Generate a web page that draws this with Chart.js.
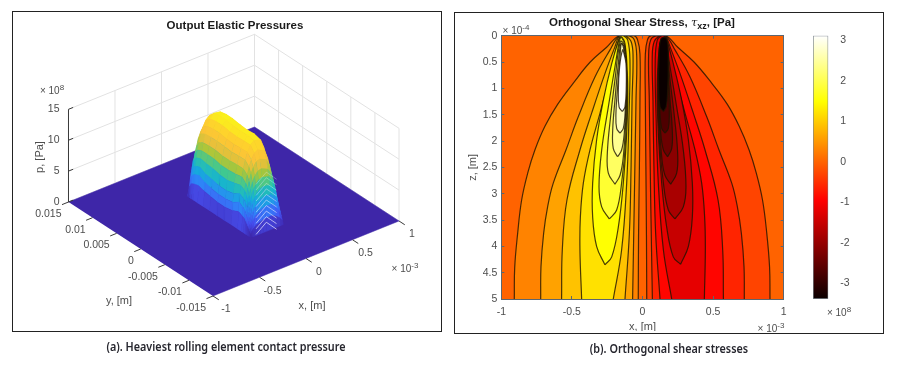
<!DOCTYPE html>
<html>
<head>
<meta charset="utf-8">
<script src="https://cdn.jsdelivr.net/npm/chart.js@4"></script>
<style>
  html, body { margin: 0; padding: 0; background: #fff; }
  #page { position: absolute; left: 0; top: 0; width: 900px; height: 372px; overflow: hidden; filter: blur(0.4px);
          font-family: "Liberation Sans", sans-serif; color: #4d4d4d; }
  #page canvas { position: absolute; }
  .frame { position: absolute; border: 1.5px solid #222; box-sizing: border-box; }
  .txt { position: absolute; white-space: nowrap; transform: translate(-50%, -50%); font-size: 11px; }
  .txt sup { font-size: 8px; vertical-align: 4px; line-height: 0; }
  .title { font-weight: bold; color: #1a1a1a; font-size: 11.5px; }
  .title i { font-weight: normal; font-family: "DejaVu Serif", serif; }
  .title sub { font-size: 9px; vertical-align: -3px; line-height: 0; }
  .caption { font-family: "Noto Sans", sans-serif; font-weight: 600; color: #26262e; font-size: 12px; transform: translate(-50%, -50%) scaleX(0.9); }
</style>
</head>
<body>
<div id="page">
  <div class="frame" style="left:12px;top:10.5px;width:429.5px;height:321.5px"></div>
  <div class="frame" style="left:453.5px;top:12px;width:430px;height:321.5px"></div>
  <canvas id="surface" width="445" height="372" style="left:0;top:0"></canvas>
  <canvas id="contour" width="427" height="317" style="left:455px;top:14px"></canvas>
  <canvas id="colorbar" width="70" height="317" style="left:800px;top:14px"></canvas>

  <div class="txt title" style="left:235px;top:24.5px">Output Elastic Pressures</div>
  <div class="txt" style="left:52px;top:90px;font-size:10px">&times; 10<sup>8</sup></div>
  <div class="txt" style="left:405px;top:268px;font-size:10px">&times; 10<sup>-3</sup></div>
  <div class="txt" style="left:312px;top:305px">x, [m]</div>
  <div class="txt" style="left:119px;top:300px">y, [m]</div>
  <div class="txt" style="left:38.5px;top:157px;transform:translate(-50%,-50%) rotate(-90deg)">p, [Pa]</div>
  <div class="txt caption" style="left:226px;top:346px">(a). Heaviest rolling element contact pressure</div>

  <div class="txt title" style="left:642px;top:22px">Orthogonal Shear Stress, <i>&tau;</i><sub>xz</sub>, [Pa]</div>
  <div class="txt" style="left:516px;top:30px;font-size:10px">&times; 10<sup>-4</sup></div>
  <div class="txt" style="left:771px;top:328px;font-size:10px">&times; 10<sup>-3</sup></div>
  <div class="txt" style="left:839px;top:312px;font-size:10px">&times; 10<sup>8</sup></div>
  <div class="txt caption" style="left:668.5px;top:347.5px">(b). Orthogonal shear stresses</div>
</div>

<script>
// Left panel: axis ticks
const xTicks3d = [-1, -0.5, 0, 0.5, 1];
const xTickLabels3d = ['-1', '-0.5', '0', '0.5', '1'];
const yTicks3d = [0.015, 0.01, 0.005, 0, -0.005, -0.01, -0.015];
const yTickLabels3d = ['0.015', '0.01', '0.005', '0', '-0.005', '-0.01', '-0.015'];
const pTicks = [0, 5, 10, 15];

// Left panel: pressure surface, x in 1e-3 m, y in m, p in 1e8 Pa (one row per y station)
const surfaceX = [-0.154, -0.146, -0.14, -0.132, -0.122, -0.11, -0.094, -0.074, -0.05, -0.018, 0.02, 0.09, 0.125, 0.165, 0.195, 0.205];
const surfaceY = [0.0068, 0.0063, 0.0059, 0.0054, 0.0045, 0.0033, 0.002, 0.0005, -0.001, -0.0025, -0.0038, -0.0046, -0.005, -0.0053, -0.0055, -0.0057, -0.0059, -0.0061, -0.0063, -0.0065];
const surfaceP = [
  [0, 0, 0, 0, 0, 0, 0, 0, 0, 0, 0, 0, 0, 0, 0, 0],
  [0, 1.8, 2.8, 3.7, 4.6, 5.4, 6.2, 7.1, 7.8, 8.3, 8.5, 8.4, 7.8, 5.4, 2.8, 0],
  [0, 2.4, 3.7, 4.8, 6, 7.1, 8.1, 9.3, 10.2, 10.9, 11.2, 11.1, 10.2, 7.1, 3.7, 0],
  [0, 2.6, 4.1, 5.4, 6.7, 7.9, 9, 10.3, 11.3, 12.2, 12.7, 12.5, 11.3, 7.9, 4.1, 0],
  [0, 2.8, 4.4, 5.7, 7, 8.2, 9.4, 10.7, 11.8, 12.8, 13.5, 13.3, 11.8, 8.2, 4.2, 0],
  [0, 2.5, 3.9, 5.2, 6.8, 8.2, 9.5, 10.8, 12, 13, 13.7, 13.5, 12, 8.3, 4.3, 0],
  [0, 2.3, 3.6, 5, 6.7, 8.2, 9.5, 10.8, 12, 13, 13.7, 13.5, 12, 8.3, 4.3, 0],
  [0, 2.1, 3.4, 4.7, 6.4, 7.9, 9.3, 10.7, 11.8, 12.8, 13.5, 13.3, 11.8, 8.2, 4.2, 0],
  [0, 2.1, 3.4, 4.7, 6.3, 7.9, 9.3, 10.6, 11.7, 12.7, 13.4, 13.2, 11.7, 8.1, 4.2, 0],
  [0, 2.3, 3.6, 5, 6.6, 8, 9.4, 10.7, 11.8, 12.8, 13.5, 13.3, 11.8, 8.2, 4.2, 0],
  [0, 2.8, 4.3, 5.6, 6.9, 8.2, 9.4, 10.7, 11.8, 12.8, 13.3, 13, 11.6, 8.2, 4.2, 0],
  [0, 2.5, 3.9, 5.2, 6.5, 7.6, 8.8, 10, 11, 11.9, 12.2, 11.6, 10.2, 7.4, 3.9, 0],
  [0, 2.3, 3.6, 4.8, 5.9, 7, 8, 9.1, 10, 10.7, 10.9, 10.4, 9.2, 6.6, 3.6, 0],
  [0, 2, 3.1, 4.1, 5.1, 6, 6.9, 7.9, 8.7, 9.3, 9.5, 9, 8.1, 5.8, 3.1, 0],
  [0, 1.7, 2.7, 3.5, 4.4, 5.2, 5.9, 6.8, 7.4, 8, 8.2, 7.9, 7.1, 5.1, 2.7, 0],
  [0, 1.4, 2.2, 2.9, 3.6, 4.2, 4.8, 5.5, 6.1, 6.6, 6.8, 6.6, 5.9, 4.2, 2.2, 0],
  [0, 1.1, 1.7, 2.2, 2.8, 3.2, 3.7, 4.2, 4.7, 5.1, 5.3, 5.2, 4.7, 3.2, 1.7, 0],
  [0, 0.8, 1.2, 1.6, 1.9, 2.3, 2.6, 3, 3.3, 3.6, 3.8, 3.7, 3.3, 2.3, 1.2, 0],
  [0, 0.4, 0.6, 0.8, 1, 1.2, 1.4, 1.6, 1.7, 1.9, 2, 2, 1.7, 1.2, 0.6, 0],
  [0, 0, 0, 0, 0, 0, 0, 0, 0, 0, 0, 0, 0, 0, 0, 0]
];

// Left panel: pale mesh chevrons on the front end, [x, p] per point
const chevronY = -0.0058;
const chevronHeights = [9, 8.1, 7.2, 6.3, 5.4, 4.5, 3.6, 2.7, 1.8, 0.9];
const chevronX = [-0.06, 0.05, 0.16];
const chevronDrop = [1.3, 0, 1.8];

// Right panel: axis ticks
const xTicks = [-1, -0.5, 0, 0.5, 1];
const zTicks = [0, 0.5, 1, 1.5, 2, 2.5, 3, 3.5, 4, 4.5, 5];
const stressTicks = [-3, -2, -1, 0, 1, 2, 3];
const stressRange = [-3.38, 3.107];

// Right panel: contour lines as [x, z] pairs, x in 1e-3 m, z in 1e-4 m
const posArch1 = [[-0.908, 5], [-0.905, 4.4], [-0.884, 3.75], [-0.856, 3.12], [-0.812, 2.6], [-0.762, 2.17], [-0.691, 1.72], [-0.6, 1.3], [-0.49, 0.9], [-0.37, 0.5], [-0.254, 0.22], [-0.165, 0], [-0.06, 0], [-0.035, 0.08], [-0.018, 0.35], [-0.018, 1.2], [-0.022, 2.5], [-0.028, 3.8], [-0.03, 5]];
const posArch2 = [[-0.721, 5], [-0.719, 4.39], [-0.7, 3.75], [-0.672, 3.25], [-0.632, 2.8], [-0.542, 2.17], [-0.455, 1.54], [-0.336, 0.78], [-0.23, 0.27], [-0.166, 0.01], [-0.1, 0], [-0.058, 0.08], [-0.041, 0.4], [-0.046, 1.22], [-0.058, 3.12], [-0.07, 5]];
const posArch3 = [[-0.573, 5], [-0.568, 4.07], [-0.535, 3.12], [-0.443, 2.17], [-0.36, 1.47], [-0.266, 0.72], [-0.195, 0.21], [-0.162, 0], [-0.124, 0], [-0.081, 0.11], [-0.067, 0.4], [-0.074, 1.22], [-0.081, 2.49], [-0.093, 3.75], [-0.124, 5]];
const posArch4 = [[-0.431, 5], [-0.443, 4.07], [-0.44, 3.44], [-0.419, 2.8], [-0.372, 2.17], [-0.301, 1.47], [-0.23, 0.75], [-0.183, 0.21], [-0.157, 0], [-0.136, 0], [-0.105, 0.08], [-0.089, 0.46], [-0.096, 1.54], [-0.112, 2.8], [-0.148, 4.07], [-0.207, 5]];
const posLoop1 = [[-0.266, 4.35], [-0.325, 4], [-0.353, 3.44], [-0.353, 2.8], [-0.325, 1.98], [-0.277, 1.22], [-0.218, 0.53], [-0.171, 0.11], [-0.152, 0.02], [-0.124, 0.15], [-0.105, 0.91], [-0.112, 1.85], [-0.136, 2.8], [-0.171, 3.63], [-0.218, 4.2]];
const posLoop2 = [[-0.235, 3.48], [-0.289, 3.25], [-0.308, 2.87], [-0.289, 2.17], [-0.242, 1.35], [-0.195, 0.59], [-0.162, 0.08], [-0.148, 0.03], [-0.124, 0.21], [-0.11, 1.09], [-0.119, 1.98], [-0.148, 2.8], [-0.183, 3.31]];
const posLoop3 = [[-0.195, 2.82], [-0.242, 2.61], [-0.249, 2.23], [-0.226, 1.54], [-0.195, 0.84], [-0.157, 0.11], [-0.129, 0.18], [-0.112, 0.84], [-0.117, 1.54], [-0.136, 2.3], [-0.159, 2.65]];
const posLoop4 = [[-0.176, 2.3], [-0.207, 2.14], [-0.211, 1.79], [-0.195, 1.22], [-0.171, 0.53], [-0.152, 0.15], [-0.131, 0.21], [-0.117, 0.65], [-0.117, 1.22], [-0.129, 1.85], [-0.148, 2.17]];
const posLoop5 = [[-0.159, 1.85], [-0.183, 1.76], [-0.188, 1.47], [-0.176, 0.97], [-0.159, 0.4], [-0.15, 0.15], [-0.136, 0.21], [-0.124, 0.46], [-0.119, 0.91], [-0.122, 1.41], [-0.136, 1.76]];
const posLoop6 = [[-0.143, 1.44], [-0.166, 1.35], [-0.171, 1.03], [-0.162, 0.59], [-0.141, 0.27], [-0.131, 0.34], [-0.117, 0.53], [-0.115, 0.97], [-0.124, 1.35]];

const negArch1 = [[0.903, 5], [0.9, 4.4], [0.88, 3.75], [0.85, 3.12], [0.805, 2.6], [0.755, 2.17], [0.685, 1.72], [0.6, 1.3], [0.49, 0.9], [0.365, 0.5], [0.25, 0.22], [0.165, 0], [0.06, 0], [0.035, 0.08], [0.02, 0.35], [0.02, 1.2], [0.024, 2.5], [0.028, 3.8], [0.03, 5]];
const negArch2 = [[0.721, 5], [0.719, 4.39], [0.7, 3.75], [0.672, 3.25], [0.632, 2.8], [0.542, 2.17], [0.455, 1.54], [0.336, 0.78], [0.23, 0.27], [0.166, 0.01], [0.1, 0], [0.058, 0.08], [0.043, 0.4], [0.048, 1.22], [0.058, 3.12], [0.07, 5]];
const negArch3 = [[0.573, 5], [0.568, 4.07], [0.535, 3.12], [0.443, 2.17], [0.36, 1.47], [0.266, 0.72], [0.195, 0.21], [0.162, 0], [0.124, 0], [0.083, 0.11], [0.069, 0.4], [0.074, 1.22], [0.081, 2.49], [0.093, 3.75], [0.124, 5]];
const negArch4 = [[0.438, 5], [0.445, 4.07], [0.44, 3.44], [0.419, 2.8], [0.372, 2.17], [0.301, 1.47], [0.23, 0.75], [0.183, 0.21], [0.157, 0], [0.136, 0], [0.105, 0.08], [0.09, 0.46], [0.096, 1.54], [0.112, 2.8], [0.148, 4.07], [0.207, 5]];
const negLoop1 = [[0.27, 4.34], [0.325, 4], [0.353, 3.44], [0.353, 2.8], [0.325, 1.98], [0.277, 1.22], [0.218, 0.53], [0.175, 0.11], [0.157, 0.02], [0.124, 0.15], [0.105, 0.91], [0.112, 1.85], [0.136, 2.8], [0.171, 3.63], [0.218, 4.2]];
const negLoop2 = [[0.23, 3.48], [0.289, 3.25], [0.308, 2.87], [0.289, 2.17], [0.242, 1.35], [0.195, 0.59], [0.165, 0.08], [0.15, 0.03], [0.124, 0.21], [0.11, 1.09], [0.119, 1.98], [0.148, 2.8], [0.183, 3.31]];
const negLoop3 = [[0.2, 2.82], [0.242, 2.61], [0.249, 2.23], [0.226, 1.54], [0.195, 0.84], [0.165, 0.11], [0.129, 0.18], [0.112, 0.84], [0.117, 1.54], [0.136, 2.3], [0.159, 2.65]];
const negLoop4 = [[0.178, 2.3], [0.207, 2.14], [0.211, 1.79], [0.195, 1.22], [0.178, 0.53], [0.16, 0.12], [0.131, 0.18], [0.117, 0.65], [0.117, 1.22], [0.129, 1.85], [0.148, 2.17]];
const negLoop5 = [[0.159, 1.85], [0.183, 1.76], [0.19, 1.47], [0.185, 0.97], [0.18, 0.4], [0.165, 0.08], [0.128, 0.1], [0.118, 0.46], [0.119, 0.91], [0.122, 1.41], [0.136, 1.76]];
const negLoop6 = [[0.148, 1.44], [0.168, 1.35], [0.178, 1.03], [0.182, 0.59], [0.172, 0.06], [0.13, 0.06], [0.117, 0.53], [0.115, 0.97], [0.124, 1.35]];

const posContours = [posArch1, posArch2, posArch3, posArch4, posLoop1, posLoop2, posLoop3, posLoop4, posLoop5, posLoop6];
const negContours = [negArch1, negArch2, negArch3, negArch4, negLoop1, negLoop2, negLoop3, negLoop4, negLoop5, negLoop6];
const posLevels = [0.3, 0.6, 0.9, 1.2, 1.5, 1.8, 2.1, 2.4, 2.7, 3.107];
const negLevels = [-0.3, -0.6, -0.9, -1.2, -1.5, -1.8, -2.1, -2.4, -2.7, -3.38];
const zeroLevel = 0;

// Colormaps
const parulaStops = ['#3e26a8', '#4752f4', '#2d87f7', '#12b1d6', '#37c897', '#abc639', '#f9bf3a', '#fecf2e', '#f9fb15'];
const hotStops = [[0, '#0a0000'], [0.375, '#ff0000'], [0.75, '#ffff00'], [1, '#ffffff']];

function hexToRgb(h) {
  return [1, 3, 5].map(i => parseInt(h.slice(i, i + 2), 16));
}

function mix(a, b, t) {
  const ca = hexToRgb(a), cb = hexToRgb(b);
  return 'rgb(' + ca.map((c, i) => Math.round(c + (cb[i] - c) * t)).join(',') + ')';
}

function parula(p) {
  const t = Math.min(p / 14, 1) * (parulaStops.length - 1);
  const i = Math.min(Math.floor(t), parulaStops.length - 2);
  return mix(parulaStops[i], parulaStops[i + 1], t - i);
}

function hot(v) {
  const t = (v - stressRange[0]) / (stressRange[1] - stressRange[0]);
  for (let i = 0; i < hotStops.length - 1; i++) {
    if (t <= hotStops[i + 1][0]) {
      return mix(hotStops[i][1], hotStops[i + 1][1], (t - hotStops[i][0]) / (hotStops[i + 1][0] - hotStops[i][0]));
    }
  }
  return '#ffffff';
}

// View of the 3D axes: x in 1e-3 m, y in m, p in 1e8 Pa
function project(x, y, p) {
  return {
    x: 233.75 + 93 * x - 4816.7 * y,
    y: 211.5 - 37.5 * x - 3133.3 * y - 6.18 * p
  };
}

function polyline(points, color, width) {
  return { data: points, showLine: true, fill: false, borderColor: color, borderWidth: width, pointRadius: 0, tension: 0 };
}

function polygon(points, color) {
  return { data: points, showLine: true, fill: 'shape', backgroundColor: color, borderColor: color, borderWidth: 0.5, pointRadius: 0, tension: 0 };
}

// Build the 3D picture back to front
function buildSurfaceDatasets() {
  const list = [];
  const gridColor = '#e2e2e2';
  const xMin = xTicks3d[0], xMax = xTicks3d[4];
  const yMax = yTicks3d[0], yMin = yTicks3d[6];
  const pMax = pTicks[3];

  xTicks3d.forEach(x => list.push(polyline([project(x, yMax, 0), project(x, yMax, pMax)], gridColor, 1)));
  yTicks3d.forEach(y => list.push(polyline([project(xMax, y, 0), project(xMax, y, pMax)], gridColor, 1)));
  pTicks.forEach(p => list.push(polyline([project(xMin, yMax, p), project(xMax, yMax, p), project(xMax, yMin, p)], gridColor, 1)));

  // floor
  list.push(polygon([project(xMin, yMax, 0), project(xMax, yMax, 0), project(xMax, yMin, 0), project(xMin, yMin, 0)], parula(0)));

  // axis lines and tick marks
  const axisColor = '#3a3a3a';
  list.push(polyline([project(xMin, yMax, 0), project(xMin, yMax, pMax)], axisColor, 1));
  pTicks.forEach(p => list.push(polyline([project(xMin, yMax, p), project(xMin + 0.05, yMax, p)], axisColor, 1)));
  xTicks3d.forEach(x => list.push(polyline([project(x, yMin, 0), project(x, yMin - 0.0012, 0)], axisColor, 1)));
  yTicks3d.forEach(y => list.push(polyline([project(xMin, y, 0), project(xMin - 0.07, y, 0)], axisColor, 1)));

  // pressure hump, rows from far to near, columns from far side to near side
  for (let j = 0; j < surfaceY.length - 1; j++) {
    for (let i = surfaceX.length - 2; i >= 0; i--) {
      const a = surfaceP[j][i], b = surfaceP[j][i + 1], c = surfaceP[j + 1][i + 1], d = surfaceP[j + 1][i];
      if (a + b + c + d === 0) continue;
      list.push(polygon([
        project(surfaceX[i], surfaceY[j], a),
        project(surfaceX[i + 1], surfaceY[j], b),
        project(surfaceX[i + 1], surfaceY[j + 1], c),
        project(surfaceX[i], surfaceY[j + 1], d)
      ], parula((a + b + c + d) / 4)));
    }
  }

  // mesh edges show as pale chevrons on the front end, stronger lower down
  chevronHeights.forEach(h => {
    const alpha = 0.75 - h * 0.05;
    list.push(polyline(chevronX.map((x, i) => project(x, chevronY, h - chevronDrop[i])), 'rgba(235,235,255,' + alpha + ')', 1));
  });
  return list.reverse();
}

// Tick labels of the 3D axes follow the projected tick positions
const axisLabelsPlugin = {
  id: 'axisLabels3d',
  afterDatasetsDraw(chart) {
    const c = chart.ctx, sx = chart.scales.x, sy = chart.scales.y;
    const put = (pos, dx, dy, text, align) => {
      c.textAlign = align;
      c.fillText(text, sx.getPixelForValue(pos.x) + dx, sy.getPixelForValue(pos.y) + dy);
    };
    c.save();
    c.font = '10.5px "Liberation Sans"';
    c.fillStyle = '#4d4d4d';
    c.textBaseline = 'middle';
    xTicks3d.forEach((x, i) => put(project(x, yTicks3d[6], 0), 13, 13.5, xTickLabels3d[i], 'center'));
    yTicks3d.forEach((y, i) => put(project(xTicks3d[0], y, 0), -7, 12, yTickLabels3d[i], 'right'));
    pTicks.forEach(p => put(project(xTicks3d[0], yTicks3d[0], p), -9, 0, String(p), 'right'));
    c.restore();
  }
};

new Chart(document.getElementById('surface'), {
  type: 'scatter',
  data: { datasets: buildSurfaceDatasets() },
  plugins: [axisLabelsPlugin],
  options: {
    responsive: false,
    animation: false,
    events: [],
    layout: { padding: 0 },
    plugins: { legend: { display: false }, tooltip: { enabled: false } },
    scales: {
      x: { type: 'linear', display: false, min: 0, max: 445 },
      y: { type: 'linear', display: false, min: 0, max: 372, reverse: true }
    }
  }
});

// Right panel: contour fills go from the outside in
function contourDataset(points, level, closed) {
  const pts = points.map(p => ({ x: p[0], y: p[1] }));
  if (closed) pts.push(pts[0]);
  return {
    data: pts,
    showLine: true,
    fill: 'shape',
    backgroundColor: hot(level),
    borderColor: 'rgba(30,20,0,0.8)',
    borderWidth: 1.2,
    pointRadius: 0,
    tension: 0.4
  };
}

function buildContourDatasets() {
  const list = [{
    data: [{ x: -1, y: 0 }, { x: 1, y: 0 }, { x: 1, y: 5 }, { x: -1, y: 5 }],
    showLine: true, fill: 'shape', backgroundColor: hot(zeroLevel), borderWidth: 0, pointRadius: 0
  }];
  posContours.forEach((c, i) => list.push(contourDataset(c, posLevels[i], i > 3)));
  negContours.forEach((c, i) => list.push(contourDataset(c, negLevels[i], i > 3)));
  return list.reverse();
}

const axisColor2d = '#5c6670';
const tickFont = { family: '"Liberation Sans"', size: 10.5 };

function boxAxis(extra) {
  return Object.assign({
    type: 'linear',
    border: { display: true, color: axisColor2d, width: 1, z: 1 },
    grid: { drawOnChartArea: false, drawTicks: true, tickLength: -3, color: axisColor2d, z: 1 }
  }, extra);
}

new Chart(document.getElementById('contour'), {
  type: 'scatter',
  data: { datasets: buildContourDatasets() },
  options: {
    responsive: false,
    animation: false,
    events: [],
    layout: { padding: { left: 0, top: 21.7, right: 98.3, bottom: 0 } },
    plugins: { legend: { display: false }, tooltip: { enabled: false } },
    scales: {
      x: boxAxis({
        position: 'bottom', min: -1, max: 1,
        afterBuildTicks: s => { s.ticks = xTicks.map(value => ({ value })); },
        afterFit: s => { s.height = 32; },
        ticks: { color: '#4d4d4d', font: tickFont, padding: 10, maxRotation: 0, callback: v => String(v) },
        title: { display: true, text: 'x, [m]', color: '#4d4d4d', font: { family: '"Liberation Sans"', size: 11 }, padding: { top: 0, bottom: -3 } }
      }),
      y: boxAxis({
        position: 'left', min: 0, max: 5, reverse: true,
        afterBuildTicks: s => { s.ticks = zTicks.map(value => ({ value })); },
        afterFit: s => { s.width = 46.3; },
        ticks: { color: '#4d4d4d', font: tickFont, padding: 7, callback: v => String(v) },
        title: { display: true, text: 'z, [m]', color: '#4d4d4d', font: { family: '"Liberation Sans"', size: 11 }, padding: { top: 11, bottom: 0 } }
      }),
      x2: boxAxis({
        position: 'top', min: -1, max: 1,
        afterBuildTicks: s => { s.ticks = xTicks.map(value => ({ value })); },
        afterFit: s => { s.height = 0; },
        ticks: { display: false }
      }),
      y2: boxAxis({
        position: 'right', min: 0, max: 5, reverse: true,
        afterBuildTicks: s => { s.ticks = zTicks.map(value => ({ value })); },
        afterFit: s => { s.width = 0; },
        ticks: { display: false }
      })
    }
  }
});

// Colorbar: one floating bar painted with the hot map
new Chart(document.getElementById('colorbar'), {
  type: 'bar',
  data: {
    labels: ['stress'],
    datasets: [{
      data: [stressRange],
      barPercentage: 1,
      categoryPercentage: 1,
      borderColor: '#7d858c',
      borderWidth: 1,
      borderSkipped: false,
      backgroundColor: ctx => {
        const area = ctx.chart.chartArea;
        if (!area) return '#000';
        const g = ctx.chart.ctx.createLinearGradient(0, area.bottom, 0, area.top);
        hotStops.forEach(s => g.addColorStop(s[0], s[1]));
        return g;
      }
    }]
  },
  options: {
    responsive: false,
    animation: false,
    events: [],
    layout: { padding: { left: 13, top: 21.7, right: 0, bottom: 32 } },
    plugins: { legend: { display: false }, tooltip: { enabled: false } },
    scales: {
      x: { display: false },
      y: {
        position: 'right', min: stressRange[0], max: stressRange[1],
        afterBuildTicks: s => { s.ticks = stressTicks.map(value => ({ value })); },
        afterFit: s => { s.width = 41.7; },
        border: { display: false },
        grid: { display: false },
        ticks: { color: '#4d4d4d', font: tickFont, padding: 4, callback: v => String(v) }
      }
    }
  }
});
</script>
</body>
</html>
